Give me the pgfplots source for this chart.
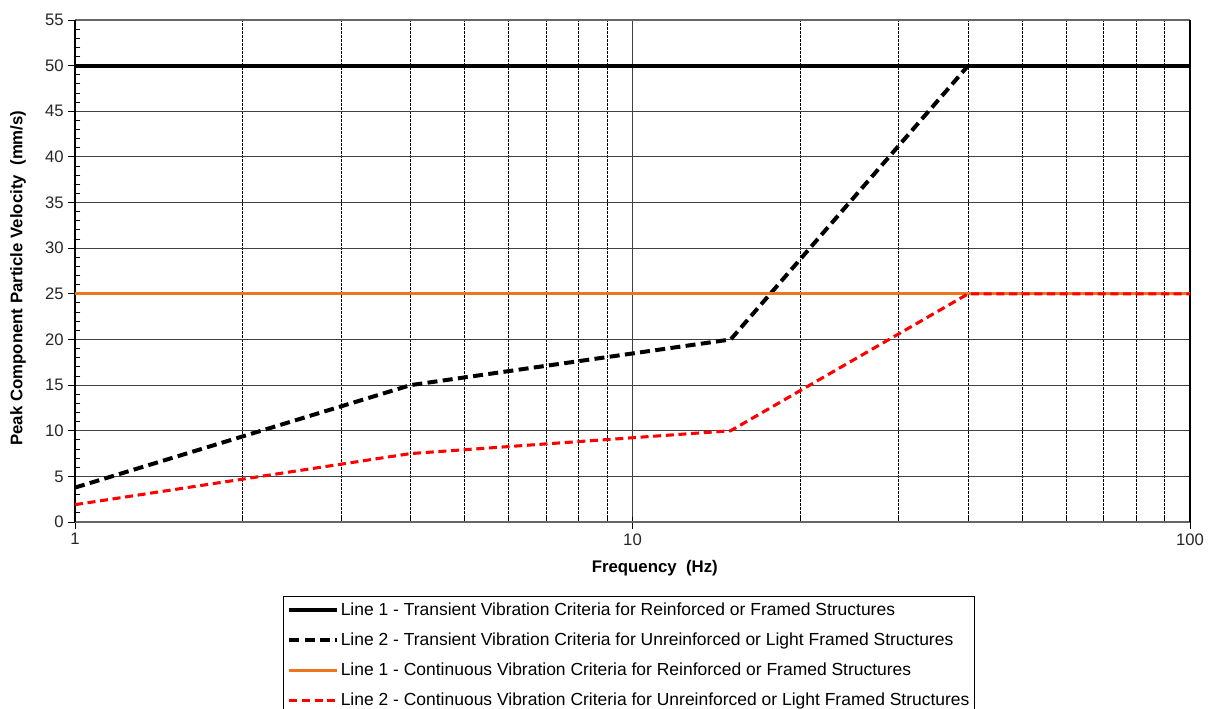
\documentclass[border=0pt]{standalone}
\usepackage{pgfplots}
\pgfplotsset{compat=1.18}
\usepackage{fontspec}
\setmainfont{Liberation Sans}
\definecolor{myorange}{RGB}{236,118,30}
\begin{document}
\begin{tikzpicture}
\useasboundingbox (0,0) rectangle (907.5pt,-531pt);
\begin{axis}[
  at={(56.25pt,-391.5pt)}, anchor=south west,
  scale only axis, width=836.25pt, height=376.5pt,
  xmode=log, xmin=1, xmax=100, ymin=0, ymax=55,
  xtick={1,10,100}, xticklabels={1,10,100},
  ytick distance=5, minor y tick num=4,
  /pgf/number format/assume math mode=true,
  tick label style={font=\fontsize{12.5}{15}\selectfont, text=black!85},
  tick align=outside, major tick length=5pt, minor tick length=-4pt,
  xtick pos=bottom, ytick pos=left,
  ymajorgrids, xmajorgrids, xminorgrids,
  major grid style={black!75, line width=0.8pt},
  minor x grid style={black, line width=0.5pt, dash pattern=on 2pt off 1pt},
  separate axis lines,
  x axis line style={black!60, line width=1.4pt},
  y axis line style={black, line width=0.8pt},
  every tick/.style={black, line width=0.7pt},
  xlabel={\textbf{Frequency\ \ (Hz)}},
  ylabel={\textbf{Peak\ Component\ Particle\ Velocity\ \ (mm/s)}},
  label style={font=\fontsize{12.6}{15}\selectfont},
  xlabel style={at={(axis description cs:0.520,-0.0916)}, anchor=center},
  ylabel style={at={(axis description cs:-0.0511,0.486)}, anchor=center},
  legend style={at={(0.497,-0.147)}, anchor=north, draw=black, line width=0.8pt,
    font=\fontsize{13.1}{16}\selectfont, row sep=7.5pt, inner xsep=3pt, inner ysep=3pt,
    cells={anchor=west}, nodes={inner xsep=1pt}},
  legend image code/.code={\draw[#1] (0pt,0pt) -- (36pt,0pt);},
  clip=true,
]
\addplot[black, line width=3pt] coordinates {(1,50) (100,50)};
\addlegendentry{Line 1 - Transient Vibration Criteria for Reinforced or Framed Structures}
\addplot[black, line width=3pt, dash pattern=on 7.5pt off 4pt] coordinates {(1,3.77) (4,15) (15,20) (40,50)};
\addlegendentry{Line 2 - Transient Vibration Criteria for Unreinforced or Light Framed Structures}
\addplot[myorange, line width=2.3pt] coordinates {(1,25) (100,25)};
\addlegendentry{Line 1 - Continuous Vibration Criteria for Reinforced or Framed Structures}
\addplot[red, line width=2.3pt, dash pattern=on 6pt off 3.5pt] coordinates {(1,1.9) (4,7.5) (15,10) (40,25) (100,25)};
\addlegendentry{Line 2 - Continuous Vibration Criteria for Unreinforced or Light Framed Structures}
\end{axis}
\end{tikzpicture}
\end{document}
